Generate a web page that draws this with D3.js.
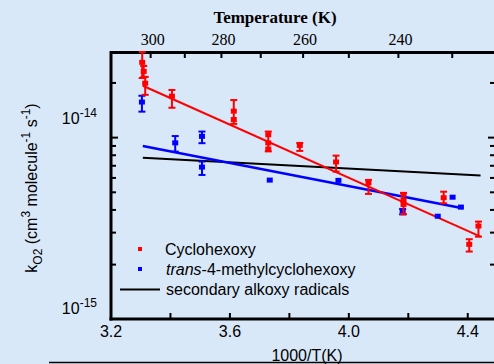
<!DOCTYPE html>
<html>
<head>
<meta charset="utf-8">
<script src="https://cdn.jsdelivr.net/npm/d3@7"></script>
<style>
  body { margin: 0; background: #d9e8f8; }
  svg { display: block; }
  text { font-family: "Liberation Sans", Arial, sans-serif; }
</style>
</head>
<body>
<div id="chart"></div>
<script>
// values in units of 1e-15 cm3 molecule-1 s-1
var redX  = [3.305, 3.31, 3.315, 3.405, 3.613, 3.613, 3.729, 3.729, 3.729, 3.835, 3.957, 4.066, 4.184, 4.184, 4.184, 4.319, 4.405, 4.436]
var redK  = [25.8, 23.0, 19.8, 16.8, 13.9, 12.5, 10.3, 9.3, 8.6, 9.0, 7.3, 5.6, 4.84, 4.48, 4.26, 4.64, 2.57, 3.24]
var redHi = [31.2, 24.8, 21.6, 18.3, 16.1, 12.5, 10.8, 9.3, 8.6, 9.35, 7.96, 5.85, 4.96, 4.48, 4.26, 5.04, 2.76, 3.45]
var redLo = [21.3, 21.5, 17.2, 14.6, 11.9, 12.5, 8.4, 9.3, 8.6, 8.45, 6.50, 4.90, 3.79, 4.48, 4.26, 4.35, 2.36, 2.85]

var blueX  = [3.304, 3.416, 3.506, 3.506, 3.734, 3.965, 4.181, 4.299, 4.349, 4.377]
var blueK  = [15.6, 9.3, 10.1, 6.84, 5.80, 5.78, 3.90, 3.67, 4.67, 4.12]
var blueHi = [17.0, 10.2, 10.8, 7.38, 5.80, 5.78, 4.05, 3.67, 4.67, 4.12]
var blueLo = [13.9, 8.37, 9.32, 6.23, 5.80, 5.78, 3.78, 3.67, 4.67, 4.12]

var redFitX = [3.307, 4.443], redFitK = [19.3, 2.85]
var blueFitX = [3.307, 4.383], blueFitK = [9.0, 4.09]
var alkX = [3.307, 4.443], alkK = [7.76, 6.18]

var xTicks = [3.2, 3.6, 4.0, 4.4]
var xMinor = [3.4, 3.8, 4.2]
var tempTicks = [300, 280, 260, 240]
var tempMinor = [290, 270, 250, 230]
var yMajor = [1, 10]
var yExp = ["-15", "-14"]

var W = 494, H = 364
var svg = d3.select("#chart").append("svg").attr("width", W).attr("height", H)

var x = d3.scaleLinear().domain([3.2, 4.495]).range([111, 496])
var y = d3.scaleLog().domain([1, 29.6]).range([319.3, 52])

////////// axes frame //////////
var frame = svg.append("g").attr("stroke", "black").attr("fill", "none")
frame.append("line").attr("x1", 111).attr("x2", 496).attr("y1", 52.5).attr("y2", 52.5).attr("stroke-width", 3)
frame.append("line").attr("x1", 109.5).attr("x2", 496).attr("y1", 319).attr("y2", 319).attr("stroke-width", 3)
frame.append("line").attr("x1", 111).attr("x2", 111).attr("y1", 51).attr("y2", 320.5).attr("stroke-width", 3)
frame.append("line").attr("x1", 496).attr("x2", 496).attr("y1", 51).attr("y2", 320.5).attr("stroke-width", 3)

// bottom ticks
xTicks.concat(xMinor).forEach(function(v){
  if (v <= 3.2) return
  frame.append("line").attr("x1", x(v)).attr("x2", x(v)).attr("y1", 318).attr("y2", 313).attr("stroke-width", 2)
})
// top ticks (temperature)
tempTicks.concat(tempMinor).forEach(function(t){
  frame.append("line").attr("x1", x(1000/t)).attr("x2", x(1000/t)).attr("y1", 53).attr("y2", 58).attr("stroke-width", 2)
})
// left / right log ticks
var yt = []
for (var d = 1; d <= 10; d *= 10) for (var m = 1; m < 10; m++) if (d*m <= 29.6 && d*m > 1) yt.push(d*m)
yt.forEach(function(v){
  var len = (v == 10) ? 6 : 4
  frame.append("line").attr("x1", 112).attr("x2", 112 + len).attr("y1", y(v)).attr("y2", y(v)).attr("stroke-width", 2)
  frame.append("line").attr("x1", 495).attr("x2", 495 - len - 1).attr("y1", y(v)).attr("y2", y(v)).attr("stroke-width", 2)
})

////////// tick labels //////////
svg.selectAll(".xl").data(xTicks).enter().append("text")
  .attr("x", function(d){ return x(d) }).attr("y", 337)
  .attr("text-anchor", "middle").style("font-size", "16px")
  .text(function(d){ return d.toFixed(1) })

svg.selectAll(".tl").data(tempTicks).enter().append("text")
  .attr("x", function(d){ return x(1000/d) + 2 }).attr("y", 45)
  .attr("text-anchor", "middle")
  .style("font-family", "'Liberation Serif', 'Times New Roman', serif").style("font-size", "16px")
  .text(function(d){ return d })

// the original labels sit a bit above their ticks, the upper one more so
var yLabShift = [-5, -14]
yMajor.forEach(function(v, i){
  var t = svg.append("text").attr("x", 97).attr("y", y(v) + yLabShift[i])
    .attr("text-anchor", "end").style("font-size", "16px")
  t.append("tspan").text("10")
  t.append("tspan").attr("dy", -7).style("font-size", "12px").text(yExp[i])
})

svg.append("text").attr("x", 275).attr("y", 23).attr("text-anchor", "middle")
  .style("font-family", "'Liberation Serif', 'Times New Roman', serif")
  .style("font-size", "17px").style("font-weight", "bold")
  .text("Temperature (K)")

svg.append("text").attr("x", 307).attr("y", 361).attr("text-anchor", "middle")
  .style("font-size", "16px").text("1000/T(K)")

var yl = svg.append("text").attr("transform", "translate(37,188) rotate(-90)")
  .attr("text-anchor", "middle").style("font-size", "16px")
yl.append("tspan").text("k")
yl.append("tspan").attr("dy", 5).style("font-size", "12px").text("O2")
yl.append("tspan").attr("dy", -5).text(" (cm")
yl.append("tspan").attr("dy", -7).style("font-size", "12px").text("3")
yl.append("tspan").attr("dy", 7).text(" molecule")
yl.append("tspan").attr("dy", -7).style("font-size", "12px").text("-1")
yl.append("tspan").attr("dy", 7).text(" s")
yl.append("tspan").attr("dy", -7).style("font-size", "12px").text("-1")
yl.append("tspan").attr("dy", 7).text(")")

svg.append("line").attr("x1", 49).attr("x2", 494).attr("y1", 362.5).attr("y2", 362.5)
  .attr("stroke", "black").attr("stroke-width", 1.5)

////////// fit lines //////////
var line = d3.line().x(function(d){ return x(d[0]) }).y(function(d){ return y(d[1]) })
function fit(xs, ks, c, w){
  svg.append("path").datum(d3.zip(xs, ks)).attr("d", line)
    .attr("fill", "none").attr("stroke", c).attr("stroke-width", w)
}
fit(alkX, alkK, "black", 2)
fit(blueFitX, blueFitK, "#0000ff", 2.5)
fit(redFitX, redFitK, "#ff0000", 2)

////////// data points //////////
function points(xs, ks, hi, lo, c){
  var g = svg.append("g")
  var data = xs.map(function(v, i){ return {x: v, k: ks[i], hi: hi[i], lo: lo[i]} })
  data.forEach(function(d){
    var px = x(d.x)
    if (d.hi > d.k * 1.02 || d.lo < d.k * 0.98) {
      var y1 = Math.max(y(d.hi), 52)
      g.append("line").attr("x1", px).attr("x2", px).attr("y1", y1).attr("y2", y(d.lo))
        .attr("stroke", c).attr("stroke-width", 2)
      g.append("line").attr("x1", px - 3.5).attr("x2", px + 3.5).attr("y1", y1).attr("y2", y1)
        .attr("stroke", c).attr("stroke-width", 2)
      g.append("line").attr("x1", px - 3.5).attr("x2", px + 3.5).attr("y1", y(d.lo)).attr("y2", y(d.lo))
        .attr("stroke", c).attr("stroke-width", 2)
    }
    g.append("rect").attr("x", px - 3).attr("y", y(d.k) - 3).attr("width", 6).attr("height", 5).attr("fill", c)
  })
}
points(blueX, blueK, blueHi, blueLo, "#0000ff")
points(redX, redK, redHi, redLo, "#ff0000")

////////// legend //////////
var leg = svg.append("g")
leg.append("rect").attr("x", 138).attr("y", 247).attr("width", 4).attr("height", 4).attr("fill", "#ff0000")
leg.append("rect").attr("x", 138).attr("y", 267).attr("width", 4).attr("height", 4).attr("fill", "#0000ff")
leg.append("line").attr("x1", 120).attr("x2", 160).attr("y1", 289.5).attr("y2", 289.5).attr("stroke", "black").attr("stroke-width", 2)
leg.append("text").attr("x", 165).attr("y", 255).style("font-size", "16px").text("Cyclohexoxy")
var lt = leg.append("text").attr("x", 166).attr("y", 275).style("font-size", "16px")
lt.append("tspan").style("font-style", "italic").text("trans")
lt.append("tspan").text("-4-methylcyclohexoxy")
leg.append("text").attr("x", 166).attr("y", 295).style("font-size", "16px").text("secondary alkoxy radicals")
</script>
</body>
</html>
